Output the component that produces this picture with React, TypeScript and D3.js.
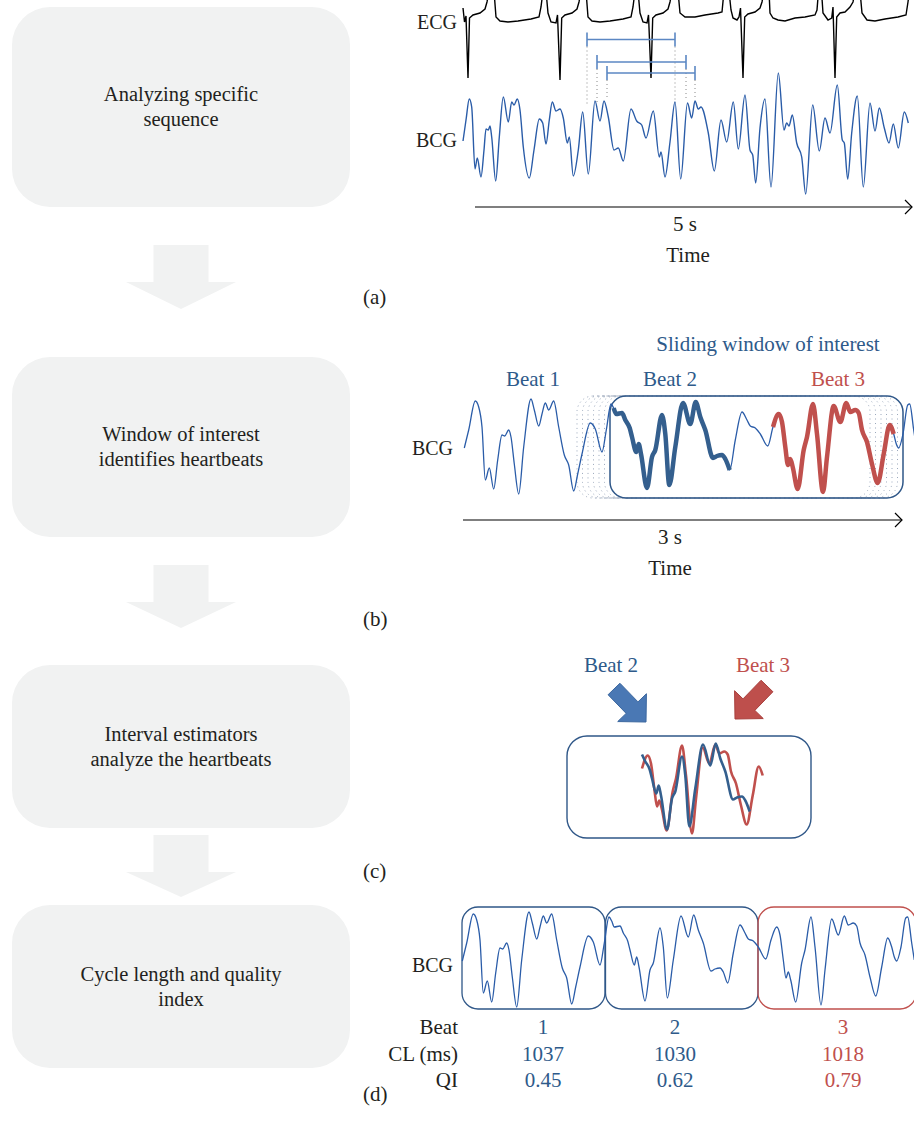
import React from 'react';
import * as d3 from 'd3';

// ---------------- DATA ----------------
// Flowchart steps (left column)
const stepLines: string[][] = [
  ['Analyzing specific', 'sequence'],
  ['Window of interest', 'identifies heartbeats'],
  ['Interval estimators', 'analyze the heartbeats'],
  ['Cycle length and quality', 'index'],
];
const panelLetters = ['(a)', '(b)', '(c)', '(d)'];

// Panel (a) ECG: [sample index (≈90 Hz), amplitude a.u.]
const ecgA: [number, number][] = [
  [0, 1.3], [1.5, -0.1], [3, 0.5], [5, -5.7], [6.5, 0.3], [10, 0.6], [17, 0.8], [22, 1.2], [24, 1.9], [26, 3.0],
  [31, 3.0], [33, 0.4], [37, 0], [45, -0.1], [55, 0], [68, 0.2], [76, 0.4], [78, 1.4], [80, 3.0], [83, 3.0],
  [85, 0.8], [88, -0.1], [93, -0.2], [94.5, 0.6], [97, -5.9], [98.7, 0.3], [102, 0.6], [109, 0.8], [114, 1.2],
  [116, 1.9], [118, 3.0], [123, 3.0], [125, 0.4], [129, 0], [137, -0.1], [147, 0], [160, 0.2], [168, 0.4],
  [170, 1.4], [172, 3.0], [175, 3.0], [177, 0.8], [180, -0.1], [184, -0.2], [185.5, 0.6], [188, -5.7],
  [189.7, 0.3], [193, 0.6], [200, 0.8], [205, 1.2], [207, 1.9], [209, 3.0], [215, 3.0], [217, 0.8], [222, 0.4],
  [232, 0.4], [242, 0.6], [255, 0.8], [259, 0.9], [261, 3.0], [266, 3.0], [268, 1.1], [270, 0.3], [274, 0.1],
  [276, 0.4], [277.5, 1.3], [280, -5.7], [281.7, 0.4], [285, 0.7], [292, 0.9], [297, 1.3], [299, 1.9],
  [301, 3.0], [306, 3.0], [307, 0.8], [310, 0.3], [315, 0.1], [322, 0], [332, 0.3], [342, 0.4], [352, 0.6],
  [354, 1.1], [355.5, 3.0], [358.5, 3.0], [360, 0.8], [365, 0.1], [368.7, 0.3], [370, 1.4], [372, -5.7],
  [373.7, 0.4], [377, 0.8], [382, 0.9], [387, 1.4], [390, 1.9], [392, 3.0], [397, 3.0], [399, 0.8], [404, 0.1],
  [412, 0], [422, 0.2], [435, 0.4], [443, 0.6], [445, 1.9], [446.5, 3.0],
];

// Panel (a) BCG (5 s): [sample index, amplitude a.u.]
const bcgA: [number, number][] = [
  [0, -0.1], [3, 2.0], [6.3, 4.1], [8.7, 3.3], [12, -2.9], [14.3, -1.8], [18, -3.7], [21, -1.0], [23, 1.1],
  [25.3, 1.0], [27, 1.4], [28.7, 0.3], [32.7, -4.1], [36.3, 0.3], [40.3, 4.3], [45.3, 1.8], [48.7, 3.8],
  [51, 3.5], [54.3, 4.1], [57, 3.0], [60.3, -0.7], [66.3, -3.8], [71, -1.0], [76.3, 2.1], [79.7, 1.7],
  [83, -0.4], [86.3, 2.0], [89.3, 3.8], [93, 2.9], [97, 3.1], [100.3, 2.2], [104.3, -0.3], [106.3, 0.3],
  [110.3, -3.6], [115.3, -1.0], [119.7, 2.8], [125.3, -3.4], [132, 3.9], [137, 1.9], [141, 3.9], [145.3, 2.3],
  [151, -1.0], [155.3, -0.8], [160.3, -2.1], [168, 3.1], [173.7, 1.9], [178.7, 1.5], [183, 0.2], [190.3, 2.9],
  [196.3, -1.7], [198, -1.2], [202, -3.7], [207, -0.2], [212, 3.8], [217.7, -3.9], [224.5, 3.7], [228.7, 2.2],
  [232, 3.9], [235.3, 3.1], [238, 3.3], [245.3, 0.7], [251.3, -3.1], [258, 2.0], [263.7, -0.2], [270.3, 3.8],
  [275.3, -0.9], [282, 4.5], [287, -1.0], [289.7, -1.5], [292.7, -4.3], [297, 1.2], [302, 4.1], [308, -4.7],
  [315.3, 6.7], [321, 1.0], [323.7, 1.7], [326, 1.4], [329.3, 2.5], [333.7, -0.3], [338.7, -1.7],
  [342.7, -5.4], [349.7, 3.5], [356.3, -1.1], [362, 2.2], [367, 0.7], [374.3, 5.5], [379.3, 0.0],
  [381.3, -0.3], [384.7, -3.9], [388.7, 0.7], [394.3, 4.4], [400.3, -4.7], [407, 3.7], [412, 0.9],
  [416.3, 3.2], [421.3, 1.2], [426, -0.3], [430.3, 1.6], [435.3, -0.8], [441.3, 2.8], [445.3, 1.7],
];

// Interval bars in (a): [start sample, end sample]
const intervalsA: [number, number][] = [[124, 212], [134, 223], [144, 232]];

// Panels (b)-(d) BCG (3 s, ≈150 Hz): [sample index, amplitude a.u.]
const bcgB: [number, number][] = [
  [0.3, -0.1], [4.7, 1.7], [11.3, 4.6], [14.7, 4.0], [18, 2.0], [21.3, -3.3], [25.3, -2.1], [29.7, -4.2],
  [33.7, -1.3], [38, 1.2], [40.7, 1.1], [44.7, 1.7], [47, 1.0], [50.3, -1.7], [54.7, -4.7], [59.7, 0.0],
  [67, 4.8], [70.3, 3.7], [74.7, 2.1], [78, 3.3], [81.3, 4.4], [84.7, 3.7], [89.7, 4.6], [94.7, 2.0],
  [100.3, -0.8], [104.7, -1.8], [109.7, -4.4], [113.7, -2.7], [118, -0.7], [126.3, 2.4], [131.3, 1.8],
  [138, -0.5], [142.3, 1.7], [147, 4.3], [149.7, 3.9], [152.3, 3.3], [158, 3.4], [161.3, 2.7], [165.7, 1.9],
  [168, 1.0], [172.3, -0.5], [174.7, 0.3], [177, -0.7], [183, -4.1], [188, -1.0], [191.3, -0.3], [198, 3.2],
  [201.3, 1.3], [205.3, -3.8], [211.3, 0.0], [219, 4.4], [226.3, 2.3], [231.7, 4.5], [236.3, 3.0],
  [241.3, 1.7], [249, -1.1], [253, -0.9], [258, -0.8], [261.3, -1.2], [265.7, -2.3], [271.3, 0.7], [278, 3.5],
  [283, 2.7], [286.3, 2.1], [291.3, 1.9], [296.3, 1.3], [303.7, 0.1], [309, 2.0], [314.7, 3.3], [318, 2.5],
  [321.3, 0.0], [324, -1.8], [326.3, -1.2], [328.7, -2.0], [333.7, -4.2], [339.7, -0.3], [343, 1.0],
  [349, 4.3], [353, 1.3], [359, -4.5], [363, -1.0], [369.7, 4.1], [376.3, 2.5], [382.3, 4.4], [386.3, 3.5],
  [391.3, 3.7], [394.7, 3.4], [398, 1.7], [403, 0.5], [408, -1.7], [413.7, -3.6], [419.7, -0.7], [425.7, 2.2],
  [429.7, 1.3], [432.3, 0.3], [434.7, -0.1], [439, 1.3], [443.7, 4.2], [445.7, 4.3], [449.7, 1.7], [452.3, 0.0],
];

// Highlighted heartbeats in (b) / overlaid in (c): [start, end, alignment reference]
const beat2Segment = { start: 149, end: 266, ref: 149 };
const beat3Segment = { start: 307, end: 430, ref: 300 };
// Sliding window positions (start sample) and window length (samples)
const windowStarts = [113, 118.5, 124, 129.5, 135, 140.5];
const mainWindowStart = 146;
const windowLength = 293;

// Panel (d) beat boundaries (samples)
const beatBounds: [number, number][] = [[0, 143], [143.5, 296], [296, 454]];
const beatNumbers = ['1', '2', '3'];
const cycleLengths = ['1037', '1030', '1018'];
const qualityIndex = ['0.45', '0.62', '0.79'];
const tableRowLabels = ['Beat', 'CL (ms)', 'QI'];

// ---------------- STYLE ----------------
const FONT = "'Liberation Serif', 'Times New Roman', serif";
const TXT = '#231f20';
const BLUE_TXT = '#2e5a8a';
const RED = '#c0504d';
const THIN = '#2a5ca8';
const THICK_BLUE = '#345f8e';
const BOX_BLUE = '#2f5788';
const STEP_FILL = '#f1f2f2';
const FS = 21;

export default function App() {
  // scales
  const xA = d3.scaleLinear().domain([0, 447]).range([463, 910]);
  const yEcg = d3.scaleLinear().domain([-6, 3]).range([81, -9]);
  const yBcgA = d3.scaleLinear().domain([-6, 7]).range([200, 70]);

  const xB = d3.scaleLinear().domain([0, 450]).range([464, 914]);
  const yB = d3.scaleLinear().domain([-5, 5]).range([497, 397]);

  const xD = d3.scaleLinear().domain([0, 450]).range([462, 912]);
  const yD = d3.scaleLinear().domain([-5, 5]).range([1010, 910]);

  const xC = d3.scaleLinear().domain([0, 130]).range([633, 763]);
  const yC = d3.scaleLinear().domain([-5, 5]).range([838.5, 738.5]);

  const lineGen = (xs: any, ys: any, curve: any = d3.curveMonotoneX) =>
    d3.line<[number, number]>().x(d => xs(d[0])).y(d => ys(d[1])).curve(curve);

  const seg = (s: { start: number; end: number }) => bcgB.filter(d => d[0] >= s.start && d[0] <= s.end);

  const stepBoxes = [
    { y0: 7, y1: 207 },
    { y0: 357, y1: 537 },
    { y0: 665, y1: 828 },
    { y0: 905, y1: 1068 },
  ];
  const downArrows = [
    { top: 245, mid: 282, tip: 309 },
    { top: 565, mid: 602, tip: 628 },
    { top: 835, mid: 872, tip: 897 },
  ];
  const letterY = [304, 626, 878, 1101];

  const blockArrow = (tail: [number, number], tip: [number, number], shaftW: number, headW: number, headLen: number) => {
    const dx = tip[0] - tail[0], dy = tip[1] - tail[1];
    const L = Math.hypot(dx, dy);
    const ux = dx / L, uy = dy / L, px = -uy, py = ux;
    const bx = tip[0] - ux * headLen, by = tip[1] - uy * headLen;
    const p = (x: number, y: number) => `${x},${y}`;
    return [
      p(tail[0] + px * shaftW / 2, tail[1] + py * shaftW / 2),
      p(bx + px * shaftW / 2, by + py * shaftW / 2),
      p(bx + px * headW / 2, by + py * headW / 2),
      p(tip[0], tip[1]),
      p(bx - px * headW / 2, by - py * headW / 2),
      p(bx - px * shaftW / 2, by - py * shaftW / 2),
      p(tail[0] - px * shaftW / 2, tail[1] - py * shaftW / 2),
    ].join(' ');
  };

  const cx = 181;
  const colCenters = [543, 675, 843];

  return (
    <svg width={914} height={1136} style={{ position: 'absolute', left: 0, top: 0, background: '#fff' }}
      fontFamily={FONT}>
      {/* Flowchart */}
      {stepBoxes.map((b, i) => (
        <g key={'s' + i}>
          <rect x={12} y={b.y0} width={338} height={b.y1 - b.y0} rx={38} ry={38} fill={STEP_FILL} />
          {stepLines[i].map((t, j) => (
            <text key={j} x={cx} y={(b.y0 + b.y1) / 2 - 6 + j * 25} textAnchor="middle" fontSize={20.5} fill={TXT}>{t}</text>
          ))}
        </g>
      ))}
      {downArrows.map((a, i) => (
        <polygon key={'da' + i} fill={STEP_FILL}
          points={`${cx - 27.5},${a.top} ${cx + 27.5},${a.top} ${cx + 27.5},${a.mid} ${cx + 55},${a.mid} ${cx},${a.tip} ${cx - 55},${a.mid} ${cx - 27.5},${a.mid}`} />
      ))}
      {panelLetters.map((l, i) => (
        <text key={l} x={363} y={letterY[i]} fontSize={FS} fill={TXT}>{l}</text>
      ))}

      {/* Panel (a) */}
      <text x={457} y={29} textAnchor="end" fontSize={20} fill={TXT}>ECG</text>
      <text x={457} y={147} textAnchor="end" fontSize={20} fill={TXT}>BCG</text>
      <path d={lineGen(xA, yEcg, d3.curveLinear)(ecgA) || ''} fill="none" stroke="#000" strokeWidth={1.4} />
      {intervalsA.map((iv, i) => {
        const yy = [39.5, 62, 73][i];
        return (
          <g key={'iv' + i}>
            <line x1={xA(iv[0])} x2={xA(iv[0])} y1={yy + 7} y2={105 - i * 3} stroke="#888" strokeWidth={1} strokeDasharray="1 3" />
            <line x1={xA(iv[1])} x2={xA(iv[1])} y1={yy + 7} y2={103 - i * 2} stroke="#888" strokeWidth={1} strokeDasharray="1 3" />
            <line x1={xA(iv[0])} x2={xA(iv[1])} y1={yy} y2={yy} stroke="#5b87c3" strokeWidth={1.6} />
            <line x1={xA(iv[0])} x2={xA(iv[0])} y1={yy - 7} y2={yy + 7} stroke="#5b87c3" strokeWidth={1.6} />
            <line x1={xA(iv[1])} x2={xA(iv[1])} y1={yy - 7} y2={yy + 7} stroke="#5b87c3" strokeWidth={1.6} />
          </g>
        );
      })}
      <path d={lineGen(xA, yBcgA)(bcgA) || ''} fill="none" stroke={THIN} strokeWidth={1.4} />
      <line x1={475} x2={912} y1={207} y2={207} stroke="#000" strokeWidth={1.2} />
      <path d="M905,200 L912,207 L905,214" fill="none" stroke="#000" strokeWidth={1.2} />
      <text x={685} y={231} textAnchor="middle" fontSize={FS} fill={TXT}>5 s</text>
      <text x={688} y={262} textAnchor="middle" fontSize={FS} fill={TXT}>Time</text>

      {/* Panel (b) */}
      <text x={768} y={351} textAnchor="middle" fontSize={FS} fill={BLUE_TXT}>Sliding window of interest</text>
      <text x={533} y={386} textAnchor="middle" fontSize={FS} fill={BLUE_TXT}>Beat 1</text>
      <text x={670} y={386} textAnchor="middle" fontSize={FS} fill={BLUE_TXT}>Beat 2</text>
      <text x={838} y={386} textAnchor="middle" fontSize={FS} fill={RED}>Beat 3</text>
      <text x={453} y={455} textAnchor="end" fontSize={20} fill={TXT}>BCG</text>
      {windowStarts.map((w, i) => (
        <rect key={'w' + i} x={xB(w)} y={396} width={xB(w + windowLength) - xB(w)} height={102} rx={16}
          fill="none" stroke="#9aa7bb" strokeWidth={1} strokeDasharray="1 3.5" />
      ))}
      <rect x={xB(mainWindowStart)} y={396} width={xB(mainWindowStart + windowLength) - xB(mainWindowStart)} height={102} rx={16}
        fill="none" stroke={BOX_BLUE} strokeWidth={1.5} />
      <path d={lineGen(xB, yB)(bcgB) || ''} fill="none" stroke={THIN} strokeWidth={1.3} />
      <path d={lineGen(xB, yB)(seg(beat2Segment)) || ''} fill="none" stroke={THICK_BLUE} strokeWidth={4.5} strokeLinejoin="round" />
      <path d={lineGen(xB, yB)(seg(beat3Segment)) || ''} fill="none" stroke={RED} strokeWidth={4.5} strokeLinejoin="round" />
      <line x1={463} x2={902} y1={520} y2={520} stroke="#000" strokeWidth={1.2} />
      <path d="M895,513 L902,520 L895,527" fill="none" stroke="#000" strokeWidth={1.2} />
      <text x={670} y={544} textAnchor="middle" fontSize={FS} fill={TXT}>3 s</text>
      <text x={670} y={575} textAnchor="middle" fontSize={FS} fill={TXT}>Time</text>

      {/* Panel (c) */}
      <text x={611} y={672} textAnchor="middle" fontSize={FS} fill={BLUE_TXT}>Beat 2</text>
      <text x={763} y={672} textAnchor="middle" fontSize={FS} fill={RED}>Beat 3</text>
      <polygon points={blockArrow([614, 689], [646, 722], 16.5, 40, 20)} fill="#4a78b4" stroke="#3b679f" strokeWidth={1} />
      <polygon points={blockArrow([767, 686], [735, 719], 16.5, 40, 20)} fill="#be4f4c" stroke="#a83f3c" strokeWidth={1} />
      <rect x={567} y={736} width={244} height={102} rx={20} fill="none" stroke={BOX_BLUE} strokeWidth={1.4} />
      <path d={d3.line<[number, number]>().x(d => xC(d[0] - beat3Segment.ref)).y(d => yC(d[1])).curve(d3.curveMonotoneX)(seg(beat3Segment)) || ''}
        fill="none" stroke={RED} strokeWidth={2.6} />
      <path d={d3.line<[number, number]>().x(d => xC(d[0] - beat2Segment.ref)).y(d => yC(d[1])).curve(d3.curveMonotoneX)(seg({ start: 153, end: 266 })) || ''}
        fill="none" stroke={THICK_BLUE} strokeWidth={2.6} />

      {/* Panel (d) */}
      <text x={453} y={972} textAnchor="end" fontSize={20} fill={TXT}>BCG</text>
      {beatBounds.map((b, i) => (
        <rect key={'bb' + i} x={xD(b[0])} y={907} width={xD(b[1]) - xD(b[0])} height={102} rx={16}
          fill="none" stroke={i === 2 ? RED : BOX_BLUE} strokeWidth={1.3} />
      ))}
      <path d={lineGen(xD, yD)(bcgB) || ''} fill="none" stroke={THIN} strokeWidth={1.3} />
      {tableRowLabels.map((l, r) => (
        <text key={l} x={458} y={1034 + r * 26.5} textAnchor="end" fontSize={FS} fill={TXT}>{l}</text>
      ))}
      {[beatNumbers, cycleLengths, qualityIndex].map((row, r) =>
        row.map((v, c) => (
          <text key={r + '-' + c} x={colCenters[c]} y={1034 + r * 26.5} textAnchor="middle" fontSize={FS}
            fill={c === 2 ? RED : BLUE_TXT}>{v}</text>
        ))
      )}
    </svg>
  );
}
